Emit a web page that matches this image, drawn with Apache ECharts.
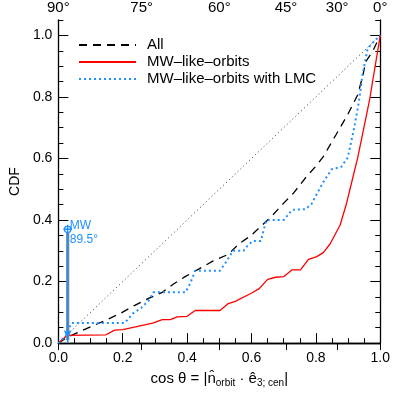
<!DOCTYPE html>
<html>
<head>
<meta charset="utf-8">
<script src="https://cdn.jsdelivr.net/npm/echarts@6/dist/echarts.min.js"></script>
<style>
  html, body { margin: 0; padding: 0; background: #fff; }
  #chart { width: 393px; height: 393px; }
</style>
</head>
<body>
<div id="chart"></div>
<script>
// CDF curves, [cos theta, CDF]
const allCdf = [
  [0, 0], [0.03, 0.02], [0.1, 0.053], [0.147, 0.074], [0.195, 0.098], [0.236, 0.122],
  [0.282, 0.146], [0.323, 0.165], [0.359, 0.193], [0.394, 0.216], [0.44, 0.243],
  [0.481, 0.267], [0.527, 0.288], [0.563, 0.324], [0.599, 0.35], [0.64, 0.39],
  [0.665, 0.415], [0.7, 0.455], [0.731, 0.488], [0.77, 0.54], [0.8, 0.575],
  [0.823, 0.606], [0.863, 0.678], [0.899, 0.743], [0.93, 0.807], [0.946, 0.87],
  [0.955, 0.915], [0.976, 0.947], [1, 1]
];
const mwLikeCdf = [
  [0, 0], [0.027, 0.025], [0.148, 0.027], [0.175, 0.042], [0.2, 0.044], [0.293, 0.065],
  [0.323, 0.076], [0.348, 0.076], [0.369, 0.085], [0.4, 0.087], [0.425, 0.106],
  [0.502, 0.106], [0.527, 0.128], [0.548, 0.135], [0.599, 0.162], [0.624, 0.177],
  [0.65, 0.207], [0.675, 0.214], [0.7, 0.216], [0.726, 0.238], [0.752, 0.238],
  [0.777, 0.272], [0.803, 0.281], [0.823, 0.294], [0.844, 0.322], [0.875, 0.383],
  [0.895, 0.453], [0.915, 0.539], [0.93, 0.603], [0.966, 0.786], [1, 1]
];
const mwLmcCdf = [
  [0, 0], [0.027, 0.028], [0.04, 0.065], [0.206, 0.065], [0.231, 0.096], [0.257, 0.114],
  [0.282, 0.14], [0.295, 0.165], [0.395, 0.165], [0.41, 0.195], [0.425, 0.235],
  [0.502, 0.235], [0.522, 0.265], [0.543, 0.3], [0.575, 0.3], [0.589, 0.318],
  [0.604, 0.332], [0.629, 0.332], [0.646, 0.4], [0.7, 0.4], [0.726, 0.433],
  [0.768, 0.435], [0.787, 0.453], [0.803, 0.485], [0.823, 0.523], [0.849, 0.565],
  [0.879, 0.573], [0.899, 0.603], [0.919, 0.7], [0.934, 0.786], [0.944, 0.867],
  [0.96, 0.953], [0.97, 0.969], [0.985, 0.985], [1, 1]
];
const isotropic = [[0, 0], [1, 1]];

// MW marker
const mwX = 0.029;
const mwCdf = 0.37;
const mwLabel = ['MW', '89.5°'];

// ticks
const topAngles = [90, 75, 60, 45, 30, 0];
const topTickValues = topAngles.map(a => Math.cos(a * Math.PI / 180));
const yLabelValues = [0, 0.2, 0.4, 0.6, 0.8, 1.0];

const BLUE = '#1E90FF';
const FONT = 'Liberation Sans';

const chart = echarts.init(document.getElementById('chart'), null, { renderer: 'canvas' });

const frameLine = { show: true, lineStyle: { color: '#000', width: 1.3 } };
const baseY = {
  type: 'value', min: 0, max: 1.05, splitLine: { show: false }
};

chart.setOption({
  animation: false,
  backgroundColor: '#fff',
  textStyle: { fontFamily: FONT },
  grid: { left: 54, right: 12, top: 20, bottom: 46 },
  legend: {
    data: ['All', 'MW\u2013like\u2013orbits', 'MW\u2013like\u2013orbits with LMC'],
    orient: 'vertical',
    left: 78,
    top: 37,
    padding: 0,
    itemWidth: 57,
    itemHeight: 10,
    itemGap: 1,
    itemStyle: { opacity: 0 },
    textStyle: { fontFamily: FONT, fontSize: 15, lineHeight: 16, color: '#000', padding: [0, 0, 0, 6] }
  },
  xAxis: [
    {
      type: 'value', position: 'bottom', min: 0, max: 1, interval: 0.2,
      name: 'cos θ = |n\u0302{s|orbit} · ê{s|3; cen}|',
      nameLocation: 'middle', nameGap: 27,
      nameTextStyle: {
        fontFamily: FONT, fontSize: 15, color: '#000',
        rich: { s: { fontFamily: FONT, fontSize: 10, lineHeight: 10, padding: [8, 0, 0, 0], color: '#000' } }
      },
      axisLine: frameLine,
      axisTick: { show: true, inside: true, length: 10, lineStyle: { color: '#000', width: 1 } },
      minorTick: { show: true, splitNumber: 4, length: 5, lineStyle: { color: '#000', width: 1 } },
      axisLabel: { fontFamily: FONT, fontSize: 14, color: '#000', margin: 8, formatter: v => v.toFixed(1) },
      splitLine: { show: false }
    },
    {
      type: 'value', position: 'top', min: 0, max: 1,
      axisLine: frameLine,
      axisTick: { show: true, inside: true, length: 7, customValues: topTickValues, lineStyle: { color: '#000', width: 1 } },
      axisLabel: {
        fontFamily: FONT, fontSize: 15, color: '#000', margin: 5,
        customValues: topTickValues,
        formatter: v => {
          let best = 0;
          topTickValues.forEach((t, i) => { if (Math.abs(t - v) < Math.abs(topTickValues[best] - v)) best = i; });
          return topAngles[best] + '°';
        }
      },
      splitLine: { show: false }
    }
  ],
  yAxis: [
    Object.assign({}, baseY, {
      position: 'left', interval: 0.05,
      name: 'CDF', nameLocation: 'middle', nameGap: 36,
      nameTextStyle: { fontFamily: FONT, fontSize: 14, color: '#000' },
      axisLine: frameLine,
      axisTick: { show: true, inside: true, length: 5, lineStyle: { color: '#000', width: 1 } },
      axisLabel: {
        fontFamily: FONT, fontSize: 14, color: '#000', margin: 6,
        customValues: yLabelValues, formatter: v => v.toFixed(1)
      }
    }),
    Object.assign({}, baseY, {
      position: 'left', interval: 0.05,
      axisLine: { show: false },
      axisTick: { show: true, inside: true, length: 10, customValues: yLabelValues, lineStyle: { color: '#000', width: 1 } },
      axisLabel: { show: false }
    }),
    Object.assign({}, baseY, {
      position: 'right', interval: 0.05,
      axisLine: frameLine,
      axisTick: { show: true, inside: true, length: 5, lineStyle: { color: '#000', width: 1 } },
      axisLabel: { show: false }
    }),
    Object.assign({}, baseY, {
      position: 'right', interval: 0.05,
      axisLine: { show: false },
      axisTick: { show: true, inside: true, length: 10, customValues: yLabelValues, lineStyle: { color: '#000', width: 1 } },
      axisLabel: { show: false }
    })
  ],
  series: [
    {
      name: 'isotropic', type: 'line', data: isotropic, symbol: 'none',
      lineStyle: { color: '#333', width: 1, type: [1, 3] }, z: 1
    },
    {
      name: 'All', type: 'line', data: allCdf, symbol: 'circle', showSymbol: false,
      lineStyle: { color: '#000', width: 1.3, type: [8, 6] }, itemStyle: { color: '#000' }
    },
    {
      name: 'MW\u2013like\u2013orbits', type: 'line', data: mwLikeCdf, symbol: 'circle', showSymbol: false,
      lineStyle: { color: '#FF0000', width: 1.3 }, itemStyle: { color: '#FF0000' }
    },
    {
      name: 'MW\u2013like\u2013orbits with LMC', type: 'line', data: mwLmcCdf, symbol: 'circle', showSymbol: false,
      lineStyle: { color: BLUE, width: 2, type: [2, 3] }, itemStyle: { color: BLUE }
    },
    {
      // grey edge of the MW marker line
      name: 'mwShade', type: 'line', symbol: 'none', z: 3,
      data: [[mwX, 0.01], [mwX, mwCdf]],
      lineStyle: { color: '#888', width: 3.2 }
    },
    {
      name: 'MW', type: 'line', z: 4, showAllSymbol: true,
      data: [
        { value: [mwX, 0], symbol: 'arrow', symbolSize: [6, 9], symbolRotate: 180, symbolOffset: [0, -4],
          itemStyle: { color: BLUE } },
        { value: [mwX, mwCdf], symbol: 'path://M10,0 A10,10 0 1,1 9.99,0 Z M10,-4 L10,24 M-4,10 L24,10',
          symbolSize: 9, symbolKeepAspect: true,
          itemStyle: { color: '#fff', borderColor: BLUE, borderWidth: 1.3 },
          label: {
            show: true, position: 'right', distance: -3, offset: [0, 3], color: BLUE,
            fontFamily: FONT, fontSize: 12, lineHeight: 14, align: 'left',
            formatter: mwLabel.join('\n')
          } }
      ],
      lineStyle: { color: BLUE, width: 1.6 }
    }
  ]
});
</script>
</body>
</html>
